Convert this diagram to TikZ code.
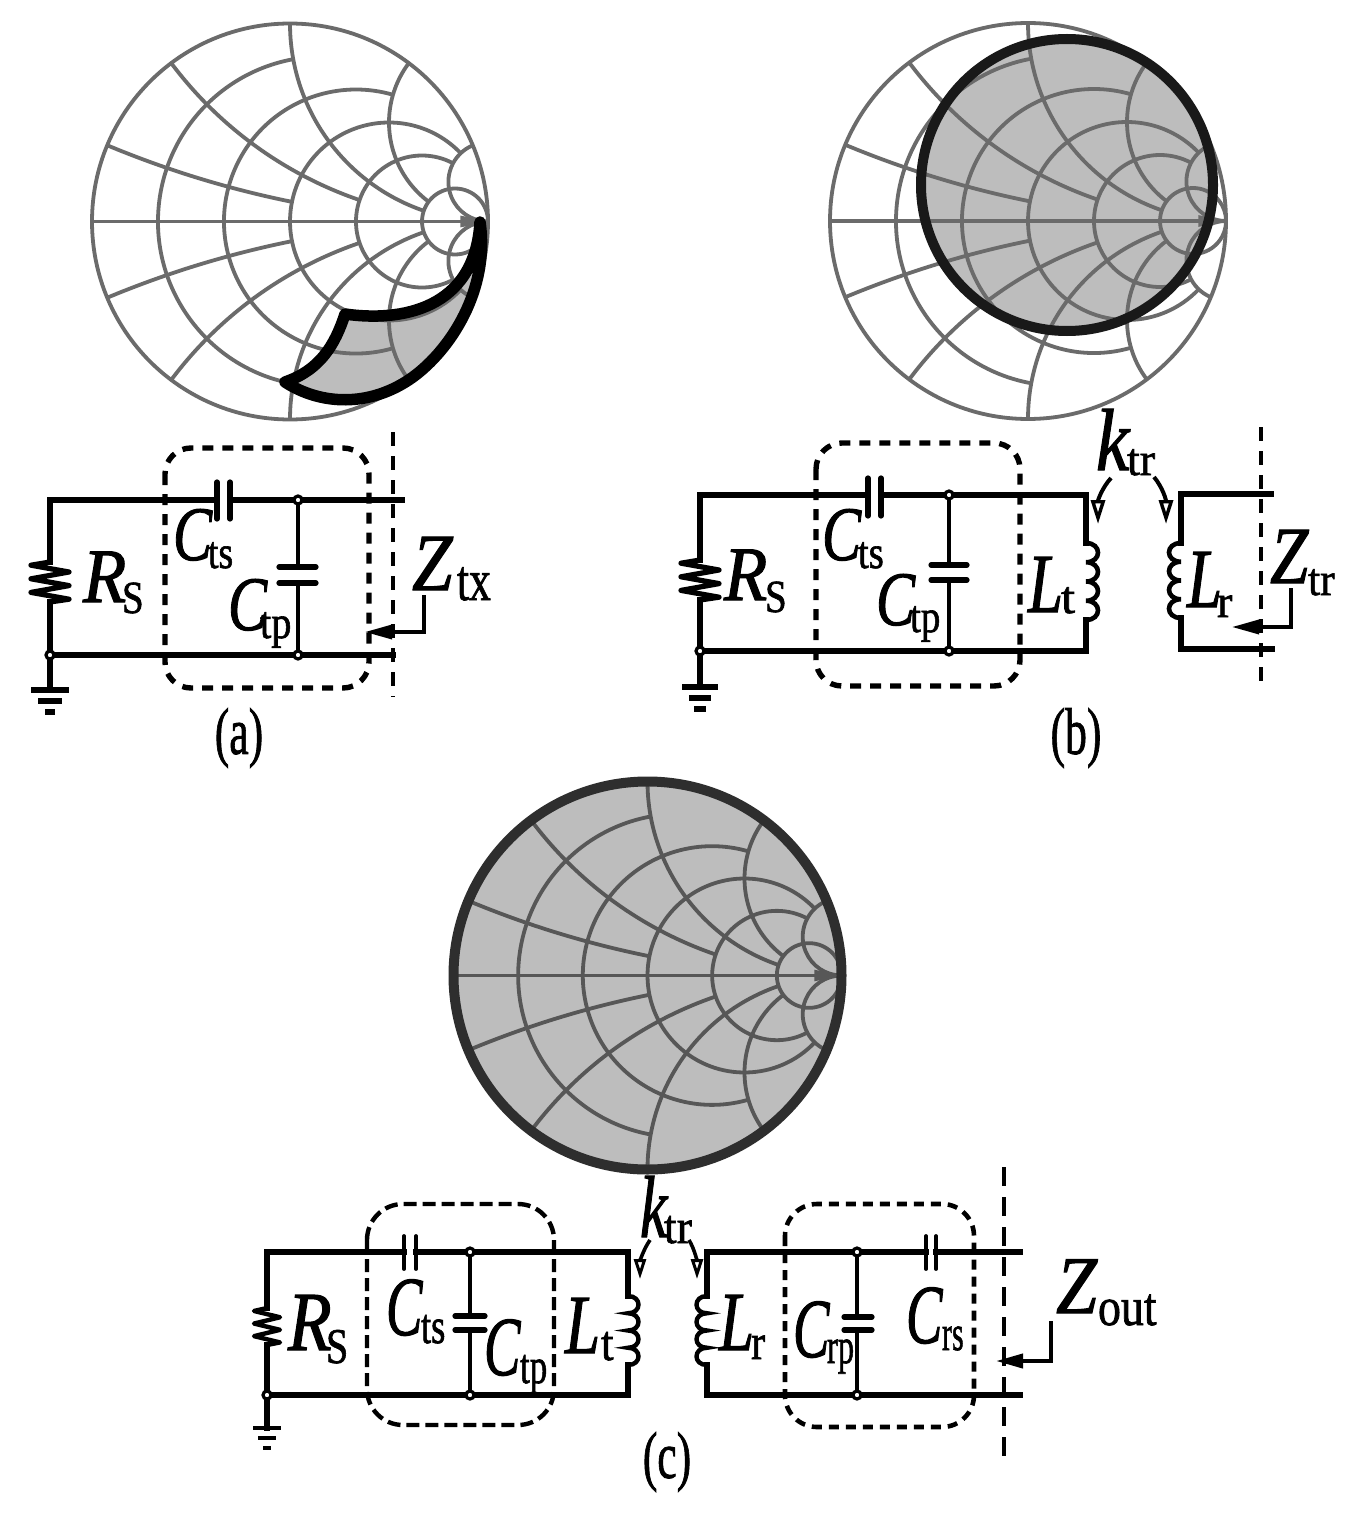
\documentclass[tikz,border=0pt]{standalone}
\usepackage{fontspec}
\usepackage{graphicx}
\setmainfont[FakeBold=1.4]{Liberation Serif}
\usetikzlibrary{arrows.meta}
\definecolor{chartgrey}{HTML}{6B6B6B}
\definecolor{chartdark}{HTML}{575757}
\definecolor{regiongrey}{HTML}{BDBDBD}
\tikzset{
  wire/.style={line width=5.4pt,line join=miter,line cap=rect},
  thinwire/.style={line width=4.4pt},
  plate/.style={line width=5.2pt,line cap=round},
  junc/.style={circle,draw=black,line width=3.2pt,fill=white,minimum size=8pt,inner sep=0pt},
  boxdash/.style={line width=5.4pt,rounded corners=26pt,dash pattern=on 11pt off 9pt},
  refdash/.style={line width=4pt,dash pattern=on 14pt off 10pt},
  zarrow/.style={line width=3.4pt,-{Triangle[length=27pt,width=14pt]}},
  karrow/.style={line width=4pt,-{Triangle[length=24pt,width=14pt,fill=white,line width=3.4pt]}},
  txt/.style={anchor=base west,inner sep=0pt,outer sep=0pt},
  captext/.style={inner sep=0pt,outer sep=0pt},
  chart/.style={line width=3.8pt},
  outline/.style={line width=10pt,line join=round,line cap=round}
}
\newcommand\lbl[9]{\node[txt] (#1) at (#2,#3) {\makebox[#6pt][l]{\scalebox{#8}[1]{\fontsize{\msz}{\msz}\selectfont\itshape #4}}\raisebox{-#7pt}{\scalebox{#9}[1]{\fontsize{\ssz}{\ssz}\selectfont #5}}};}
\newcommand\capt[4]{\node[captext] (#1) at (#2,#3) {\scalebox{.66}[1]{\fontsize{66}{66}\selectfont #4}};}
\newcommand\smith[4]{%
\begin{scope}[shift={(#1,#2)},scale=#3]
\draw[chart,#4] (0,0) circle[radius=1];
\draw[chart,#4] (-1,0) -- (1,0);
\fill[#4] (.86,-.03) -- (1,0) -- (.86,.03) -- cycle;
\draw[chart,#4] (5/6,0) circle[radius=1/6];
\foreach \rr/\xe in {.2/1,.5/2,1/5,2/5}{
  \pgfmathsetmacro\ph{180-2*atan(\xe/(\rr+1))}
  \pgfmathsetmacro\rad{1/(1+\rr)}
  \pgfmathsetmacro\ce{\rr/(1+\rr)}
  \pgfmathsetmacro\phe{360-\ph}
  \draw[chart,#4] ({\ce+\rad*cos(\ph)},{\rad*sin(\ph)}) arc[start angle=\ph,end angle=\phe,radius=\rad];
}
\foreach \sg in {1,-1}{
 \begin{scope}[yscale=\sg]
 \foreach \xv/\re in {.2/1,.5/2,1/5,2/5,5/1000}{
  \pgfmathsetmacro\rad{1/\xv}
  \pgfmathsetmacro\pa{-90-2*atan(\xv)}
  \pgfmathsetmacro\pb{-90-2*atan(\xv/(\re+1))}
  \draw[chart,#4] ({1+\rad*cos(\pa)},{\rad+\rad*sin(\pa)}) arc[start angle=\pa,end angle=\pb,radius=\rad];
 }
 \end{scope}
}
\end{scope}}
\newcommand\coil[5]{% x y0 y1 bump style
\pgfmathsetmacro\hh{(#3-#2)/4}
\draw[#5,shift={(#1,#2)}] (0,0)
 .. controls (#4,0) and (#4,\hh) .. (0,\hh)
 .. controls (#4,\hh) and (#4,2*\hh) .. (0,2*\hh)
 .. controls (#4,2*\hh) and (#4,3*\hh) .. (0,3*\hh)
 .. controls (#4,3*\hh) and (#4,4*\hh) .. (0,4*\hh);}
\newcommand\resis[5]{% x y0 y1 w style
\pgfmathsetmacro\hh{#3-#2}
\draw[#5,line join=round,shift={(#1,#2)}] (0,0) -- (-#4,.08*\hh) -- (#4,.25*\hh) -- (-#4,.42*\hh) -- (#4,.59*\hh) -- (-#4,.76*\hh) -- (#4,.93*\hh) -- (0,\hh);}
\newcommand\gnd[7]{% x y w1 w2 w3 dy style
\draw[#7] (#1-#3,#2) -- (#1+#3,#2);
\draw[#7] (#1-#4,#2+#6) -- (#1+#4,#2+#6);
\draw[#7] (#1-#5,#2+2*#6) -- (#1+#5,#2+2*#6);}
\newcommand\regionpath{(480,222) .. controls (490,290) and (450,350) .. (413,377) .. controls (370,408) and (320,405) .. (285,382) .. controls (320,370) and (335,345) .. (345,314) .. controls (400,322) and (475,310) .. (480,222)}
\begin{document}
\begin{tikzpicture}[x=1pt,y=-1pt]
\useasboundingbox (0,0) rectangle (1360,1514);
\fill[white] (0,0) rectangle (1360,1514);

%% ---------- chart (a)
\fill[regiongrey] \regionpath -- cycle;
\smith{290}{221.5}{198}{chartgrey}
\draw[outline,line width=11.5pt] \regionpath -- cycle;

%% ---------- chart (b)
\fill[regiongrey] (1067,185) circle[radius=146];
\smith{1028}{221}{198}{chartgrey}
\draw[outline,draw=black!90] (1067,185) circle[radius=146];

%% ---------- chart (c)
\fill[regiongrey] (647.5,975.5) circle[radius=194];
\smith{647.5}{975.5}{194}{chartdark}
\draw[outline,draw=black!82] (647.5,975.5) circle[radius=194];

%% ---------- circuit (a)
\coordinate (aTL) at (50,500); \coordinate (aTR) at (402,500);
\coordinate (aBL) at (50,655); \coordinate (aBR) at (393,655);
\coordinate (aC1) at (217,500); \coordinate (aC2) at (230,500);
\coordinate (aJT) at (298,500); \coordinate (aJB) at (298,655);
\coordinate (aP1) at (298,567); \coordinate (aP2) at (298,583);
\coordinate (aG) at (50,690);
\coordinate (aR1) at (50,562); \coordinate (aR2) at (50,602);
\draw[wire] (aR1) -- (aTL) -- (aC1);
\draw[wire] (aC2) -- (aTR);
\draw[wire] (aR2) -- (aG);
\draw[wire] (aBL) -- (aBR);
\draw[thinwire] (aJT) -- (aP1);
\draw[thinwire] (aP2) -- (aJB);
\draw[plate] (217,482) -- (217,519);
\draw[plate] (230,482) -- (230,519);
\draw[plate] (279,567) -- (316,567);
\draw[plate] (279,583) -- (316,583);
\resis{50}{562}{602}{19}{line width=5.2pt}
\gnd{50}{690}{19}{12}{5}{11}{line width=5.4pt}
\node[junc] (aJ1) at (aBL) {};
\node[junc] (aJ2) at (aJT) {};
\node[junc] (aJ3) at (aJB) {};
\draw[boxdash] (165,448) rectangle (369,688);
\draw[refdash] (393,432) -- (393,697);
\coordinate (aZ1) at (424,595); \coordinate (aZ2) at (424,632); \coordinate (aZ3) at (365,632);
\draw[zarrow] (aZ1) -- (aZ2) -- (aZ3);
\def\msz{77}\def\ssz{46}
\lbl{aR}{83}{602}{R}{S}{39}{11}{.92}{.85}
\lbl{aCts}{173}{560}{C}{ts}{35}{8}{.76}{.82}
\lbl{aCtp}{228}{630}{C}{tp}{32}{8}{.76}{.88}
\def\msz{81}\def\ssz{58}
\lbl{aZ}{412}{590}{Z}{tx}{45}{10}{.9}{.75}
\capt{acap}{239}{738}{(a)}

%% ---------- circuit (b)
\coordinate (bTL) at (700,495); \coordinate (bTR) at (1086,495);
\coordinate (bBL) at (700,651); \coordinate (bBR) at (1086,651);
\coordinate (bC1) at (868,495); \coordinate (bC2) at (881,495);
\coordinate (bJT) at (949,495); \coordinate (bJB) at (949,651);
\coordinate (bP1) at (949,565); \coordinate (bP2) at (949,580);
\coordinate (bG) at (700,687);
\coordinate (bR1) at (700,560); \coordinate (bR2) at (700,600);
\coordinate (bL1) at (1086,543); \coordinate (bL2) at (1086,620);
\draw[wire] (bR1) -- (bTL) -- (bC1);
\draw[wire] (bC2) -- (bTR) -- (bL1);
\draw[wire] (bL2) -- (bBR) -- (bBL);
\draw[wire] (bR2) -- (bG);
\draw[thinwire] (bJT) -- (bP1);
\draw[thinwire] (bP2) -- (bJB);
\draw[plate] (868,478) -- (868,516);
\draw[plate] (881,478) -- (881,516);
\draw[plate] (931,565) -- (967,565);
\draw[plate] (931,580) -- (967,580);
\resis{700}{560}{600}{19}{line width=5.2pt}
\gnd{700}{687}{18}{11}{6}{11}{line width=5.4pt}
\coil{1086}{543}{620}{16}{line width=4.6pt}
\node[junc] (bJ1) at (bBL) {};
\node[junc] (bJ2) at (bJT) {};
\node[junc] (bJ3) at (bJB) {};
\draw[boxdash] (816,443) rectangle (1020,686);
\coordinate (cTL) at (1181,494); \coordinate (cTR) at (1271,494);
\coordinate (cBL) at (1181,649); \coordinate (cBR) at (1272,649);
\coordinate (cL1) at (1181,543); \coordinate (cL2) at (1181,618);
\draw[wire] (cTR) -- (cTL) -- (cL1);
\draw[wire] (cL2) -- (cBL) -- (cBR);
\coil{1181}{543}{618}{-16}{line width=4.6pt}
\draw[refdash,line width=3.4pt] (1261,427) -- (1261,690);
\coordinate (bZ1) at (1291,588); \coordinate (bZ2) at (1291,627); \coordinate (bZ3) at (1232,627);
\draw[zarrow] (bZ1) -- (bZ2) -- (bZ3);
\coordinate (bK1) at (1111,478); \coordinate (bK2) at (1098,524);
\coordinate (bK3) at (1154,477); \coordinate (bK4) at (1166,524);
\draw[karrow] (bK1) .. controls (1102,488) and (1098,500) .. (bK2);
\draw[karrow] (bK3) .. controls (1163,488) and (1166,500) .. (bK4);
\def\msz{77}\def\ssz{46}
\lbl{bR}{724}{600}{R}{S}{41}{12}{.92}{.85}
\lbl{bCts}{822}{560}{C}{ts}{36}{8}{.76}{.84}
\lbl{bCtp}{876}{625}{C}{tp}{34}{7}{.76}{.85}
\def\msz{84}
\lbl{bLt}{1028}{612}{L}{t}{33}{1}{.75}{1.1}
\lbl{bLr}{1187}{607}{L}{r}{30}{10}{.75}{1}
\def\msz{81}
\lbl{bZ}{1270}{583}{Z}{tr}{38}{12}{.85}{.95}
\def\msz{88}
\lbl{bk}{1096}{470}{k}{tr}{31}{5}{.85}{1}
\capt{bcap}{1076}{738}{(b)}

%% ---------- circuit (c)
\coordinate (dTL) at (267,1252); \coordinate (dTR) at (628,1252);
\coordinate (dBL) at (267,1395); \coordinate (dBR) at (628,1395);
\coordinate (dC1) at (404,1252); \coordinate (dC2) at (416,1252);
\coordinate (dJT) at (470,1252); \coordinate (dJB) at (470,1395);
\coordinate (dP1) at (470,1316); \coordinate (dP2) at (470,1330);
\coordinate (dG) at (267,1428);
\coordinate (dR1) at (267,1308); \coordinate (dR2) at (267,1345);
\coordinate (dL1) at (628,1296); \coordinate (dL2) at (628,1365);
\draw[wire] (dR1) -- (dTL) -- (dC1);
\draw[wire] (dC2) -- (dTR) -- (dL1);
\draw[wire] (dL2) -- (dBR) -- (dBL);
\draw[wire] (dR2) -- (dG);
\draw[thinwire] (dJT) -- (dP1);
\draw[thinwire] (dP2) -- (dJB);
\draw[plate,line width=3.8pt] (404,1236) -- (404,1269);
\draw[plate,line width=3.8pt] (416,1236) -- (416,1269);
\draw[plate] (455,1316) -- (485,1316);
\draw[plate] (455,1330) -- (485,1330);
\resis{267}{1308}{1345}{13}{line width=4.4pt}
\gnd{267}{1428}{14}{9}{4}{10}{line width=4.8pt}
\coil{628}{1296}{1365}{14}{line width=4.4pt}
\node[junc] (dJ1) at (dBL) {};
\node[junc] (dJ2) at (dJT) {};
\node[junc] (dJ3) at (dJB) {};
\draw[boxdash,line width=4.4pt,rounded corners=36pt,dash pattern=on 13pt off 6pt] (367,1204) rectangle (554,1425);
\coordinate (eTL) at (707,1252); \coordinate (eTR) at (1020,1252);
\coordinate (eBL) at (707,1395); \coordinate (eBR) at (1020,1395);
\coordinate (eC1) at (926,1252); \coordinate (eC2) at (936,1252);
\coordinate (eJT) at (857,1252); \coordinate (eJB) at (857,1395);
\coordinate (eP1) at (857,1317); \coordinate (eP2) at (857,1330);
\coordinate (eL1) at (707,1296); \coordinate (eL2) at (707,1365);
\draw[wire] (eL1) -- (eTL) -- (eC1);
\draw[wire] (eC2) -- (eTR);
\draw[wire] (eL2) -- (eBL) -- (eBR);
\draw[thinwire] (eJT) -- (eP1);
\draw[thinwire] (eP2) -- (eJB);
\draw[plate,line width=3.8pt] (926,1236) -- (926,1269);
\draw[plate,line width=3.8pt] (936,1236) -- (936,1269);
\draw[plate] (844,1317) -- (872,1317);
\draw[plate] (844,1330) -- (872,1330);
\coil{707}{1296}{1365}{-14}{line width=4.4pt}
\node[junc] (eJ2) at (eJT) {};
\node[junc] (eJ3) at (eJB) {};
\draw[boxdash,line width=4.6pt,rounded corners=32pt,dash pattern=on 10pt off 7pt] (785,1204) rectangle (974,1427);
\draw[refdash,line width=4.2pt,dash pattern=on 19pt off 11pt] (1004,1167) -- (1004,1457);
\coordinate (dZ1) at (1051,1321); \coordinate (dZ2) at (1051,1361); \coordinate (dZ3) at (996,1361);
\draw[zarrow,line width=4pt] (dZ1) -- (dZ2) -- (dZ3);
\coordinate (dK1) at (650,1240); \coordinate (dK2) at (640,1279);
\coordinate (dK3) at (689,1240); \coordinate (dK4) at (697,1279);
\draw[karrow,-{Triangle[length=20pt,width=12pt,fill=white,line width=3pt]},line width=3.6pt] (dK1) .. controls (643,1250) and (640,1262) .. (dK2);
\draw[karrow,-{Triangle[length=20pt,width=12pt,fill=white,line width=3pt]},line width=3.6pt] (dK3) .. controls (695,1250) and (697,1262) .. (dK4);
\def\msz{84}\def\ssz{50}
\lbl{dR}{288}{1350}{R}{S}{38}{13}{.85}{.8}
\lbl{dCts}{386}{1335}{C}{ts}{35}{8}{.65}{.73}
\lbl{dCtp}{484}{1375}{C}{tp}{36}{8}{.65}{.7}
\lbl{dLt}{565}{1353}{L}{t}{36}{7}{.75}{.9}
\lbl{dLr}{719}{1350}{L}{r}{32}{9}{.75}{.85}
\lbl{dCrp}{793}{1357}{C}{rp}{34}{6}{.65}{.65}
\lbl{dCrs}{906}{1343}{C}{rs}{36}{7}{.65}{.6}
\def\msz{82}\def\ssz{54}
\lbl{dZ}{1056}{1313}{Z}{out}{42}{12}{.9}{.85}
\def\msz{88}\def\ssz{48}
\lbl{dk}{640}{1237}{k}{tr}{24}{6}{.7}{.95}
\capt{dcap}{667}{1462}{(c)}
\end{tikzpicture}
\end{document}
